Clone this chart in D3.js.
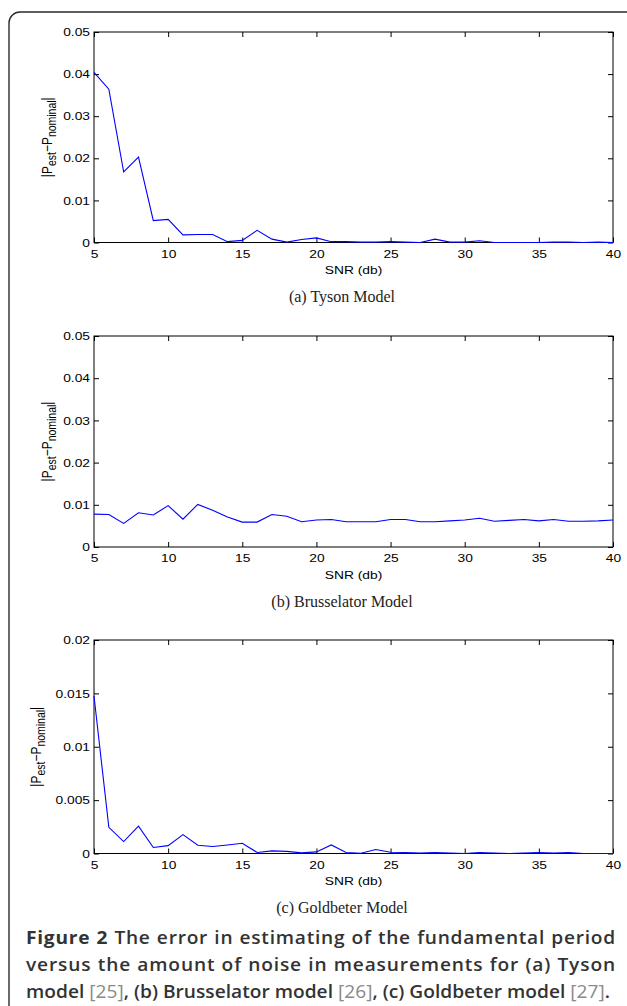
<!DOCTYPE html>
<html>
<head>
<meta charset="utf-8">
<script src="https://cdn.jsdelivr.net/npm/d3@7"></script>
<style>
    body { margin: 0; background: #fff; }
    svg text { font-family: "Liberation Sans", Arial, sans-serif; }
</style>
</head>
<body>
<svg id="fig" width="627" height="1006"></svg>
<script>
// SNR values on the x axis (db)
const snrDb = [5, 6, 7, 8, 9, 10, 11, 12, 13, 14, 15, 16, 17, 18, 19, 20, 21, 22,
    23, 24, 25, 26, 27, 28, 29, 30, 31, 32, 33, 34, 35, 36, 37, 38, 39, 40];

// |P_est - P_nominal|
const tysonErr = [0.0404, 0.0364, 0.0168, 0.0203, 0.0052, 0.0055, 0.0018, 0.0019, 0.0019,
    0.0002, 0.0005, 0.0029, 0.0008, 0.0001, 0.0007, 0.0011, 0.0002, 0.0002, 0.0001, 0.0001,
    0.0002, 0.0001, 0.0000, 0.0008, 0.0001, 0.0001, 0.0004, 0.0000, 0.0000, 0.0000, 0.0000,
    0.0001, 0.0001, 0.0000, 0.0001, 0.0000];
const brusselatorErr = [0.0078, 0.0077, 0.0056, 0.0081, 0.0076, 0.0098, 0.0066, 0.0101, 0.0087,
    0.0071, 0.0059, 0.0059, 0.0077, 0.0073, 0.0060, 0.0064, 0.0065, 0.0060, 0.0060, 0.0060,
    0.0065, 0.0065, 0.0060, 0.0060, 0.0062, 0.0064, 0.0068, 0.0061, 0.0063, 0.0065, 0.0062,
    0.0065, 0.0061, 0.0061, 0.0062, 0.0064];
const goldbeterErr = [0.01475, 0.00245, 0.00112, 0.00257, 0.00056, 0.00074, 0.00177, 0.00077, 0.00065,
    0.00080, 0.00096, 0.00010, 0.00025, 0.00020, 0.00006, 0.00015, 0.00080, 0.00010, 0.00003, 0.00037,
    0.00012, 0.00010, 0.00005, 0.00010, 0.00005, 0.00000, 0.00010, 0.00005, 0.00000, 0.00005,
    0.00010, 0.00005, 0.00010, 0.00000, 0.00000, 0.00000];

const xTickValues = [5, 10, 15, 20, 25, 30, 35, 40];
const yTicksTyson = [0, 0.01, 0.02, 0.03, 0.04, 0.05];
const yTicksBrusselator = [0, 0.01, 0.02, 0.03, 0.04, 0.05];
const yTicksGoldbeter = [0, 0.005, 0.01, 0.015, 0.02];
const yTickLabelsTyson = ["0", "0.01", "0.02", "0.03", "0.04", "0.05"];
const yTickLabelsGoldbeter = ["0", "0.005", "0.01", "0.015", "0.02"];
const subCaptions = ["(a) Tyson Model", "(b) Brusselator Model", "(c) Goldbeter Model"];

// figure caption, one entry per printed line: [text, kind]
const captionLines = [
    [["Figure 2", "head"], [" The error in estimating of the fundamental period", "body"]],
    [["versus the amount of noise in measurements for (a) Tyson", "body"]],
    [["model ", "body"], ["[25]", "ref"], [", (b) Brusselator model ", "body"], ["[26]", "ref"],
        [", (c) Goldbeter model ", "body"], ["[27]", "ref"], [".", "body"]]
];

// the matlab plots were stretched sideways when put in the page
const SX = 1.2;

let svg = d3.select("#fig");

// rounded frame that runs off the right and bottom edges
svg.append("rect")
    .attr("x", 9)
    .attr("y", 12)
    .attr("width", 640)
    .attr("height", 1020)
    .attr("rx", 11)
    .attr("ry", 11)
    .style("fill", "none")
    .style("stroke", "#2b2b2b")
    .style("stroke-width", 1.4);

let left = 94, right = 613;

let panels = [
    { values: tysonErr, ticks: yTicksTyson, labels: yTickLabelsTyson, top: 32, bottom: 242.5, labelX: 47, caption: subCaptions[0] },
    { values: brusselatorErr, ticks: yTicksBrusselator, labels: yTickLabelsTyson, top: 336, bottom: 547, labelX: 47, caption: subCaptions[1] },
    { values: goldbeterErr, ticks: yTicksGoldbeter, labels: yTickLabelsGoldbeter, top: 640, bottom: 853.5, labelX: 36, caption: subCaptions[2] }
];

function stretchText(sel) {
    sel.each(function () {
        let t = d3.select(this);
        let x = +t.attr("x") || 0;
        t.attr("x", x / SX).attr("transform", "scale(" + SX + ",1)");
    });
}

function drawPanel(p) {
    let xScale = d3.scaleLinear().domain([5, 40]).range([left, right]);
    let yScale = d3.scaleLinear().domain([0, d3.max(p.ticks)]).range([p.bottom, p.top]);

    let g = svg.append("g");

    // bottom axis with labels, ticks pointing inwards
    let xAxis = g.append("g")
        .attr("transform", "translate(0," + p.bottom + ")")
        .call(d3.axisBottom(xScale).tickValues(xTickValues).tickSizeInner(-5).tickSizeOuter(0).tickPadding(7));
    // top axis, ticks only
    let xTop = g.append("g")
        .attr("transform", "translate(0," + p.top + ")")
        .call(d3.axisTop(xScale).tickValues(xTickValues).tickSizeInner(-5).tickSizeOuter(0).tickFormat(""));
    // left axis with labels
    let yAxis = g.append("g")
        .attr("transform", "translate(" + left + ",0)")
        .call(d3.axisLeft(yScale).tickValues(p.ticks).tickSizeInner(-5).tickSizeOuter(0).tickPadding(4)
            .tickFormat((d, i) => p.labels[i]));
    let yRight = g.append("g")
        .attr("transform", "translate(" + right + ",0)")
        .call(d3.axisRight(yScale).tickValues(p.ticks).tickSizeInner(-5).tickSizeOuter(0).tickFormat(""));

    [xAxis, xTop, yAxis, yRight].forEach(a => {
        a.select(".domain").remove();
        a.selectAll("line").style("stroke", "#000").style("stroke-width", 1);
        a.selectAll("text")
            .style("font-family", "\"Liberation Sans\", Arial, sans-serif")
            .style("font-size", "11.5px")
            .style("fill", "#000");
    });
    stretchText(xAxis.selectAll("text"));
    stretchText(yAxis.selectAll("text"));

    // box
    g.append("rect")
        .attr("x", left)
        .attr("y", p.top)
        .attr("width", right - left)
        .attr("height", p.bottom - p.top)
        .style("fill", "none")
        .style("stroke", "#000")
        .style("stroke-width", 1);

    // data line
    let line = d3.line()
        .x((d, i) => xScale(snrDb[i]))
        .y(d => yScale(d));

    g.append("path")
        .datum(p.values)
        .attr("d", line)
        .style("fill", "none")
        .style("stroke", "#0000ff")
        .style("stroke-width", 1.1);

    // x label
    g.append("text")
        .attr("x", (left + right) / 2)
        .attr("y", p.bottom + 32)
        .style("text-anchor", "middle")
        .style("font-size", "11.5px")
        .text("SNR (db)")
        .call(stretchText);

    // y label, rotated, with subscripts
    let yl = g.append("g")
        .attr("transform", "translate(" + p.labelX + "," + ((p.top + p.bottom) / 2) + ")")
        .append("text")
        .attr("transform", "scale(" + SX + ",1) rotate(-90)")
        .attr("y", 4)
        .style("text-anchor", "middle")
        .style("font-size", "12px");
    yl.append("tspan").text("|P");
    yl.append("tspan").attr("dy", 3.5).style("font-size", "10.5px").text("est");
    yl.append("tspan").attr("dy", -3.5).text("\u2212P");
    yl.append("tspan").attr("dy", 3.5).style("font-size", "10.5px").text("nominal");
    yl.append("tspan").attr("dy", -3.5).text("|");

    // sub caption in the latex serif
    g.append("text")
        .attr("x", 342)
        .attr("y", p.bottom + 59.5)
        .style("text-anchor", "middle")
        .style("font-family", "\"Liberation Serif\", \"DejaVu Serif\", serif")
        .style("font-size", "16px")
        .style("fill", "#222")
        .text(p.caption);
}

panels.forEach(drawPanel);

// figure caption, justified like the page
function drawCaption() {
    let fontSize = 18;
    let styles = {
        head: { weight: 700, fill: "#333" },
        body: { weight: 600, fill: "#333" },
        ref: { weight: 400, fill: "#8a8a8a" }
    };
    let capX = 26, capWidth = 590;
    let baselines = [944, 971, 998];

    let cap = svg.append("g");

    // measure one piece of text
    let probe = cap.append("text")
        .style("font-family", "\"Open Sans\", \"Noto Sans\", sans-serif")
        .style("font-size", fontSize + "px");
    function measure(t, kind) {
        probe.style("font-weight", styles[kind].weight).text(t);
        return probe.node().getComputedTextLength();
    }

    // break each line into words, keep their style
    let lines = captionLines.map(segs => {
        let words = [];
        segs.forEach(([t, kind]) => {
            let parts = t.split(" ");
            parts.forEach((w, i) => {
                if (i > 0) words.push({ space: true });
                if (w.length) {
                    let last = words[words.length - 1];
                    if (last && !last.space) last.pieces.push({ t: w, kind: kind });
                    else words.push({ pieces: [{ t: w, kind: kind }] });
                }
            });
        });
        return words.filter(w => !w.space);
    });

    // a lone space measures as nothing in svg, so take it from a pair
    let spaceW = measure("n n", "body") - measure("nn", "body");
    lines.forEach(ws => ws.forEach(w => {
        w.width = d3.sum(w.pieces, pc => measure(pc.t, pc.kind));
        w.chars = d3.sum(w.pieces, pc => pc.t.length);
    }));

    // squeeze to the width of the last (unjustified) line
    let lastNatural = d3.sum(lines[2], w => w.width) + spaceW * (lines[2].length - 1);
    let squeeze = 584 / lastNatural;

    lines.forEach((ws, li) => {
        let total = d3.sum(ws, w => w.width);
        let gap = spaceW;
        let ls = 0;
        if (li < 2) {
            // justify: a little wider spaces, the rest spread over the letters
            gap = spaceW * 1.25;
            let chars = d3.sum(ws, w => w.chars);
            let extra = capWidth / squeeze - total - gap * (ws.length - 1);
            ls = extra / chars;
        }
        let x = 0;
        let lineG = cap.append("g")
            .attr("transform", "translate(" + capX + "," + baselines[li] + ") scale(" + squeeze + ",1)");
        ws.forEach(w => {
            let t = lineG.append("text")
                .attr("x", x)
                .style("font-family", "\"Open Sans\", \"Noto Sans\", sans-serif")
                .style("font-size", fontSize + "px")
                .style("letter-spacing", ls + "px");
            w.pieces.forEach(pc => {
                t.append("tspan")
                    .style("font-weight", styles[pc.kind].weight)
                    .style("fill", styles[pc.kind].fill)
                    .text(pc.t);
            });
            x += w.width + w.chars * ls + gap;
        });
    });
    probe.remove();
}

drawCaption();
</script>
</body>
</html>
